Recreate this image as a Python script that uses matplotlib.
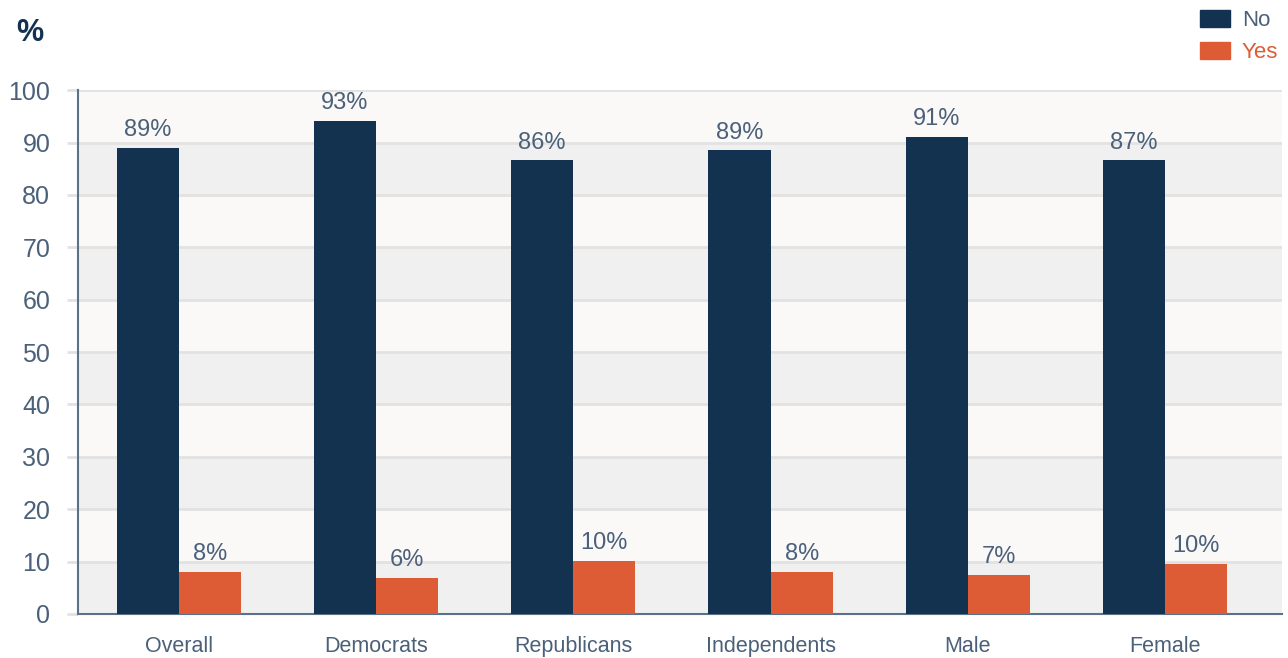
import matplotlib.pyplot as plt
import matplotlib.patches as mpatches
import numpy as np

categories = ["Overall", "Democrats", "Republicans", "Independents", "Male", "Female"]
no_values = [88.9, 94.1, 86.6, 88.5, 91.0, 86.6]
yes_values = [8.0, 6.9, 10.1, 8.0, 7.4, 9.5]
no_labels = ["89%", "93%", "86%", "89%", "91%", "87%"]
yes_labels = ["8%", "6%", "10%", "8%", "7%", "10%"]
yticks = [0, 10, 20, 30, 40, 50, 60, 70, 80, 90, 100]

navy = "#13324f"
orange = "#dd5c35"
text_col = "#4b6079"

plt.rcParams['font.family'] = ['Liberation Sans', 'DejaVu Sans']

fig = plt.figure(figsize=(12.88, 6.58), dpi=100)
ax = fig.add_axes([0.0606, 0.0669, 0.9344, 0.7961])

# alternating background bands
for i in range(len(yticks) - 1):
    col = "#f0f0f0" if i % 2 == 0 else "#faf9f8"
    ax.axhspan(yticks[i], yticks[i + 1], color=col, zorder=0, lw=0)
for y in yticks[1:]:
    ax.axhline(y, color="#e2e2e2", lw=2, zorder=1)

x = np.arange(len(categories))
w = 0.315
ax.bar(x - w / 2, no_values, w, color=navy, zorder=3)
ax.bar(x + w / 2, yes_values, w, color=orange, zorder=3)

for xi, v, lab in zip(x, no_values, no_labels):
    ax.text(xi - w / 2, v + 1.3, lab, ha="center", va="bottom", fontsize=17, color=text_col)
for xi, v, lab in zip(x, yes_values, yes_labels):
    ax.text(xi + w / 2, v + 1.3, lab, ha="center", va="bottom", fontsize=17, color=text_col)

ax.set_xlim(-0.51, 5.59)
ax.set_ylim(0, 100)
ax.set_yticks(yticks)
ax.set_yticklabels([str(t) for t in yticks], fontsize=18, color=text_col)
ax.set_xticks(x)
ax.set_xticklabels(categories, fontsize=15.5, color=text_col)
ax.tick_params(axis="x", length=0, pad=16)
ax.tick_params(axis="y", length=8, width=2, color="#e2e2e2", pad=12)

for s in ["top", "right"]:
    ax.spines[s].set_visible(False)
ax.spines["left"].set_color("#5b7089")
ax.spines["left"].set_linewidth(1.5)
ax.spines["bottom"].set_color("#5b7089")
ax.spines["bottom"].set_linewidth(1.5)

fig.text(0.013, 0.95, "%", fontsize=22, fontweight="bold", color=navy, va="center")

handles = [mpatches.Patch(color=navy, label="No"), mpatches.Patch(color=orange, label="Yes")]
leg = fig.legend(handles=handles, loc="upper right", bbox_to_anchor=(1.008, 1.015), frameon=False,
                 fontsize=16, handlelength=1.35, handleheight=0.75, handletextpad=0.55, labelspacing=0.5)
leg.get_texts()[0].set_color(text_col)
leg.get_texts()[1].set_color(orange)

fig.savefig("out.png", dpi=100, facecolor="white")
